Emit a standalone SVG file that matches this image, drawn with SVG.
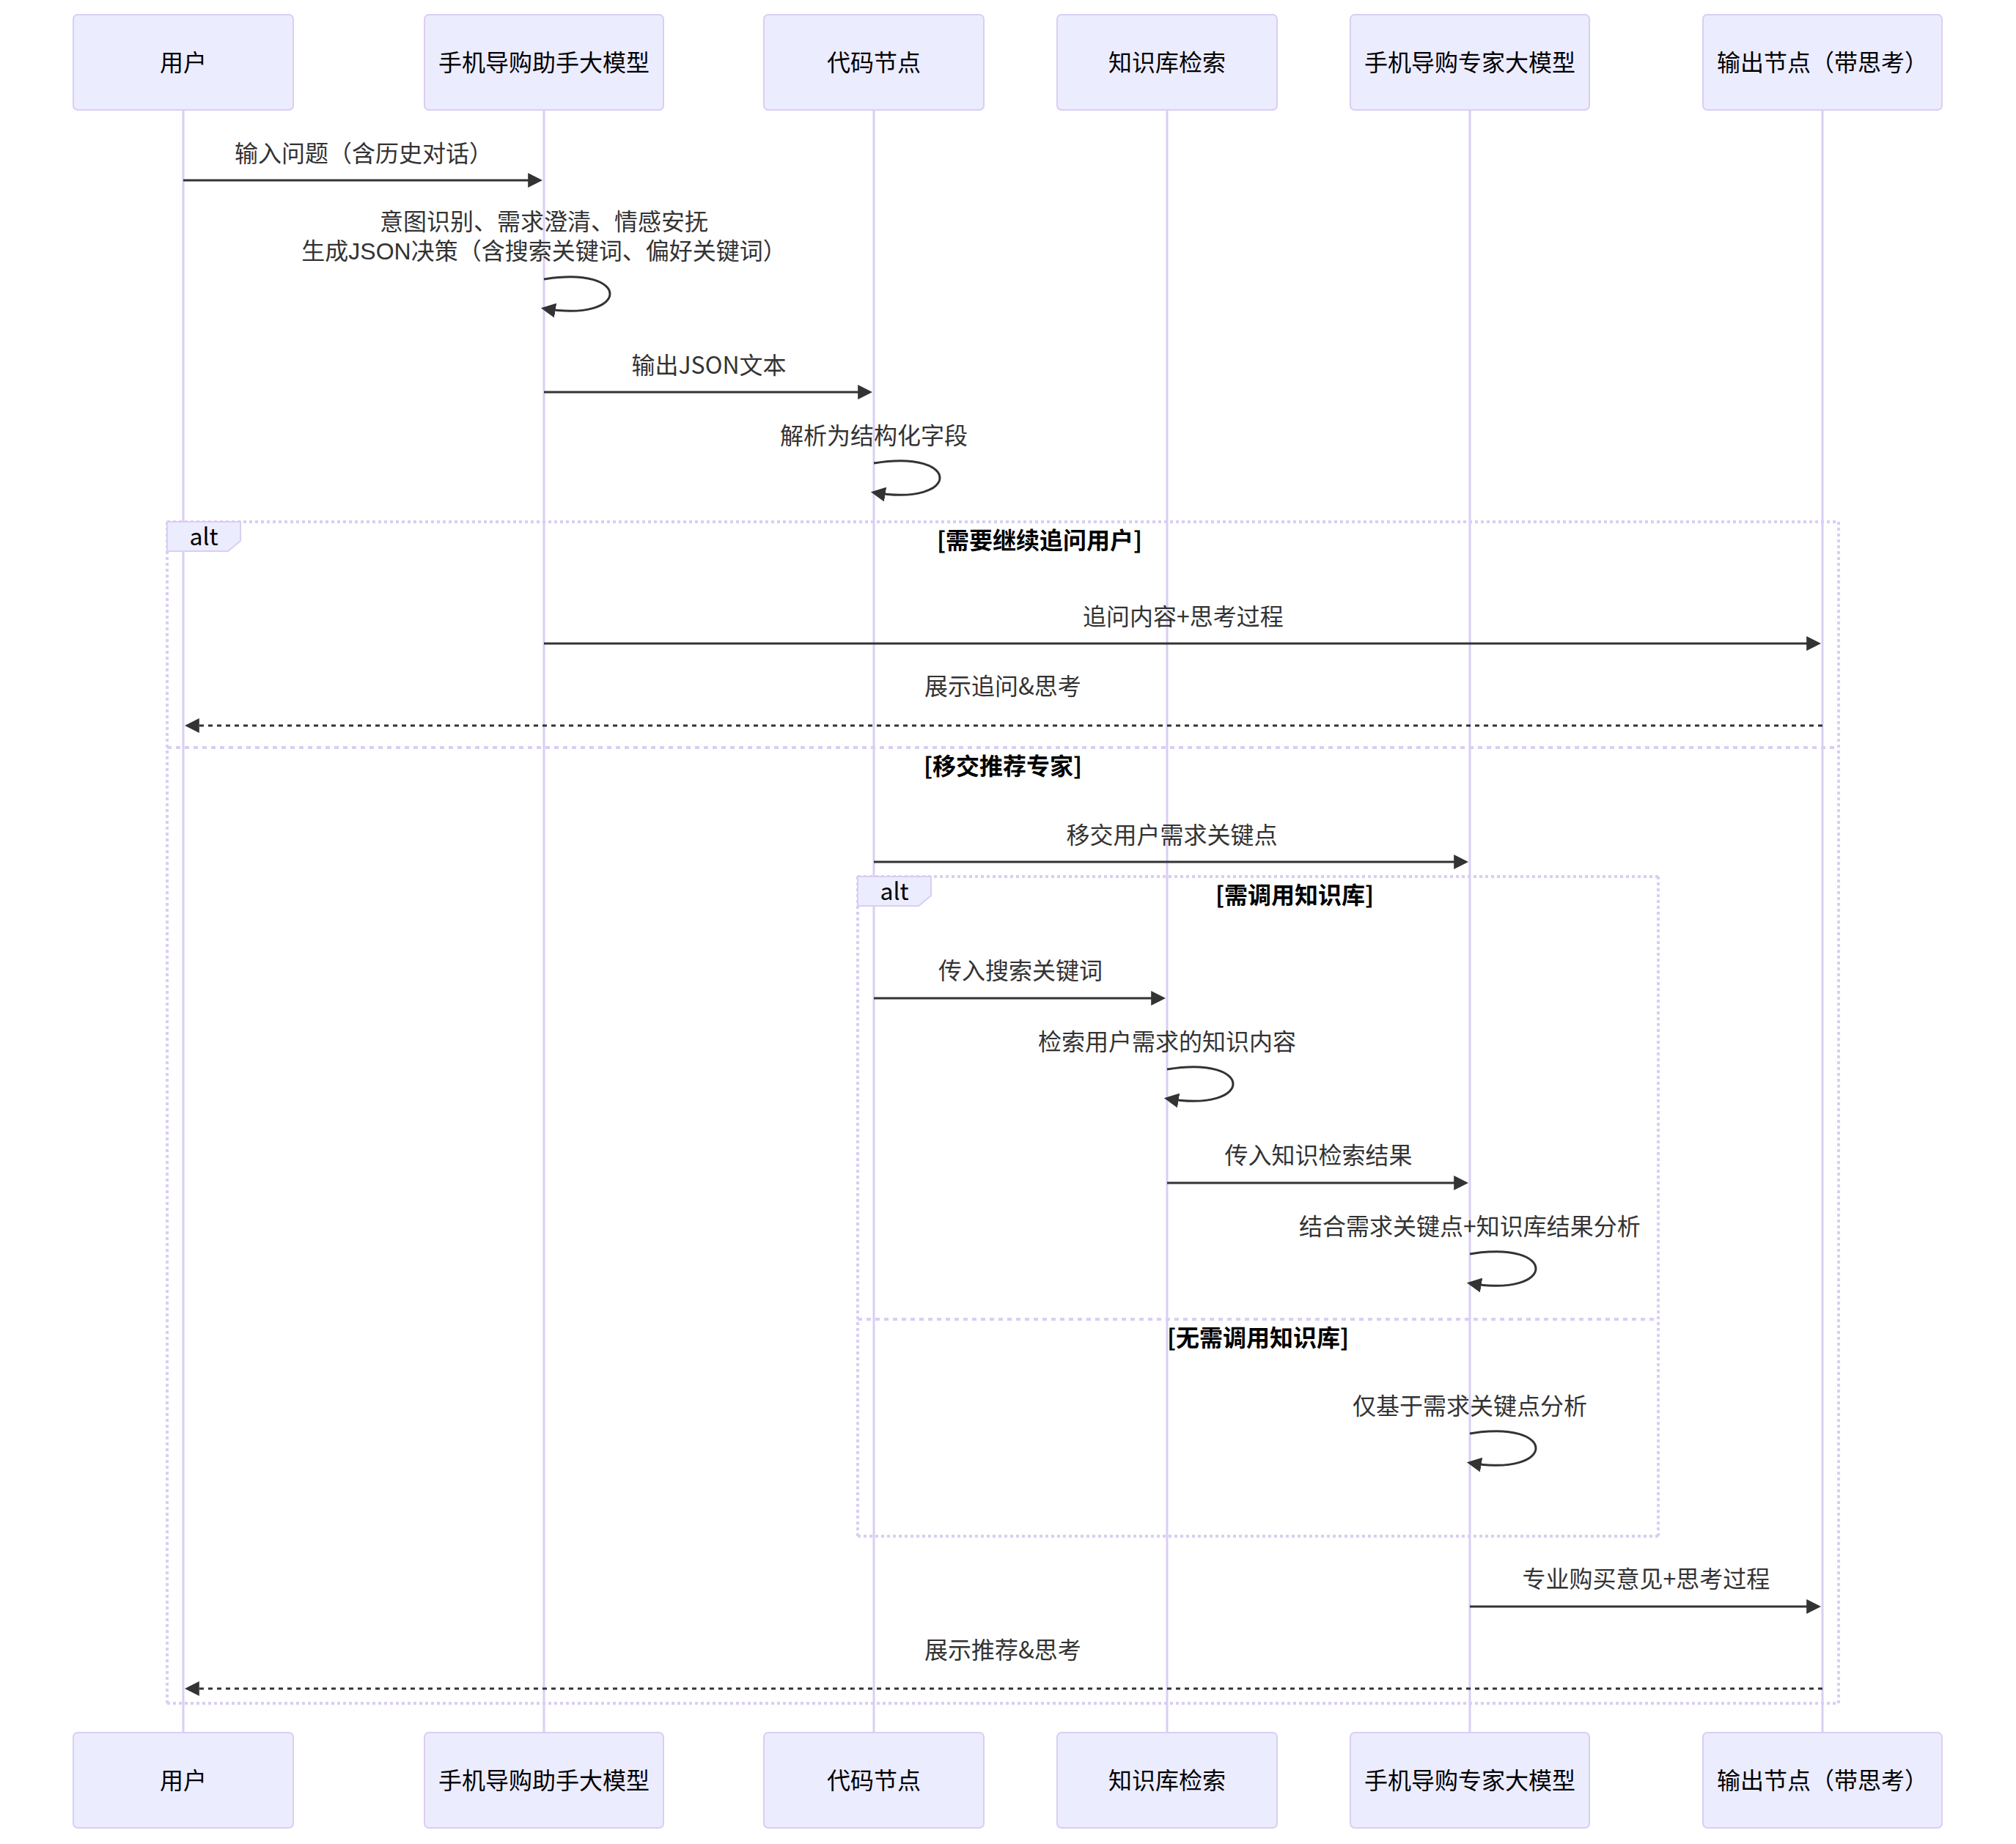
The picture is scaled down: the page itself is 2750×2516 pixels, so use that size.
<svg xmlns="http://www.w3.org/2000/svg" width="2750" height="2516" viewBox="0 0 2750 2516">
<style>
text { font-family: "Noto Sans CJK SC", "Liberation Sans", sans-serif; }
.actor { fill: #ECECFF; stroke: #DACEF3; stroke-width: 2; }
.actor-text { font-size: 32px; fill: #000; text-anchor: middle; }
.lifeline { stroke: #DACEF3; stroke-width: 3; }
.msg { stroke: #333; stroke-width: 3; fill: none; }
.dotted { stroke-dasharray: 6 6; }
.msg-text { font-size: 32px; fill: #333; text-anchor: middle; }
text.multi { font-family: "Liberation Sans", "Noto Sans CJK SC", sans-serif; }
.loop-line { stroke: #DACEF3; stroke-width: 4; stroke-dasharray: 4 4; fill: none; }
.sep-line { stroke: #DACEF3; stroke-width: 4; stroke-dasharray: 6 6; fill: none; }
.label-box { fill: #ECECFF; stroke: #DACEF3; stroke-width: 2; }
.label-text { font-size: 32px; fill: #000; text-anchor: middle; }
.loop-text { font-size: 32px; fill: #000; text-anchor: middle; font-weight: bold; }
</style>
<defs>
<marker id="arrowhead" viewBox="0 0 10 10" markerUnits="userSpaceOnUse" markerWidth="20" markerHeight="20" refX="7.9" refY="5" orient="auto">
<path d="M 0 0 L 10 5 L 0 10 z" fill="#333"/>
</marker>
</defs>
<rect width="2750" height="2516" fill="#fff"/>

<g id="lifelines">
<line class="lifeline" x1="250" y1="150" x2="250" y2="2364"/>
<line class="lifeline" x1="742" y1="150" x2="742" y2="2364"/>
<line class="lifeline" x1="1192" y1="150" x2="1192" y2="2364"/>
<line class="lifeline" x1="1592" y1="150" x2="1592" y2="2364"/>
<line class="lifeline" x1="2005" y1="150" x2="2005" y2="2364"/>
<line class="lifeline" x1="2486" y1="150" x2="2486" y2="2364"/>
</g>

<g id="frames">
<g id="alt-outer">
<line class="loop-line" x1="228" y1="712" x2="2508" y2="712"/>
<line class="loop-line" x1="2508" y1="712" x2="2508" y2="2324"/>
<line class="loop-line" x1="228" y1="2324" x2="2508" y2="2324"/>
<line class="loop-line" x1="228" y1="712" x2="228" y2="2324"/>
<line class="sep-line" x1="228" y1="1020" x2="2508" y2="1020"/>
<polygon class="label-box" points="228,712 328,712 328,738 311.2,752 228,752"/>
<text class="label-text" x="278" y="744">alt</text>
<text class="loop-text" x="1418" y="749">[需要继续追问用户]</text>
<text class="loop-text" x="1368" y="1057">[移交推荐专家]</text>
</g>
<g id="alt-inner">
<line class="loop-line" x1="1170" y1="1196" x2="2262" y2="1196"/>
<line class="loop-line" x1="2262" y1="1196" x2="2262" y2="2096"/>
<line class="loop-line" x1="1170" y1="2096" x2="2262" y2="2096"/>
<line class="loop-line" x1="1170" y1="1196" x2="1170" y2="2096"/>
<line class="sep-line" x1="1170" y1="1800" x2="2262" y2="1800"/>
<polygon class="label-box" points="1170,1196 1270,1196 1270,1222 1253.2,1236 1170,1236"/>
<text class="label-text" x="1220" y="1228">alt</text>
<text class="loop-text" x="1766" y="1233">[需调用知识库]</text>
<text class="loop-text" x="1716" y="1837">[无需调用知识库]</text>
</g>
</g>

<g id="participant-user">
<rect class="actor" x="100" y="20" width="300" height="130" rx="6"/>
<text class="actor-text" x="250" y="97">用户</text>
<rect class="actor" x="100" y="2364" width="300" height="130" rx="6"/>
<text class="actor-text" x="250" y="2441">用户</text>
</g>
<g id="participant-assistant">
<rect class="actor" x="579" y="20" width="326" height="130" rx="6"/>
<text class="actor-text" x="742" y="97">手机导购助手大模型</text>
<rect class="actor" x="579" y="2364" width="326" height="130" rx="6"/>
<text class="actor-text" x="742" y="2441">手机导购助手大模型</text>
</g>
<g id="participant-code">
<rect class="actor" x="1042" y="20" width="300" height="130" rx="6"/>
<text class="actor-text" x="1192" y="97">代码节点</text>
<rect class="actor" x="1042" y="2364" width="300" height="130" rx="6"/>
<text class="actor-text" x="1192" y="2441">代码节点</text>
</g>
<g id="participant-kb">
<rect class="actor" x="1442" y="20" width="300" height="130" rx="6"/>
<text class="actor-text" x="1592" y="97">知识库检索</text>
<rect class="actor" x="1442" y="2364" width="300" height="130" rx="6"/>
<text class="actor-text" x="1592" y="2441">知识库检索</text>
</g>
<g id="participant-expert">
<rect class="actor" x="1842" y="20" width="326" height="130" rx="6"/>
<text class="actor-text" x="2005" y="97">手机导购专家大模型</text>
<rect class="actor" x="1842" y="2364" width="326" height="130" rx="6"/>
<text class="actor-text" x="2005" y="2441">手机导购专家大模型</text>
</g>
<g id="participant-output">
<rect class="actor" x="2323" y="20" width="326" height="130" rx="6"/>
<text class="actor-text" x="2486" y="97">输出节点（带思考）</text>
<rect class="actor" x="2323" y="2364" width="326" height="130" rx="6"/>
<text class="actor-text" x="2486" y="2441">输出节点（带思考）</text>
</g>

<g id="connectors">
<text class="msg-text" x="496" y="221">输入问题（含历史对话）</text>
<line class="msg" x1="250" y1="246" x2="736" y2="246" marker-end="url(#arrowhead)"/>

<text class="msg-text multi" x="742" y="314">意图识别、需求澄清、情感安抚</text>
<text class="msg-text multi" x="742" y="354">生成JSON决策（含搜索关键词、偏好关键词）</text>
<path class="msg" d="M 742,381 C 862,361 862,441 742,421" marker-end="url(#arrowhead)"/>

<text class="msg-text" x="967" y="510">输出JSON文本</text>
<line class="msg" x1="742" y1="535" x2="1186" y2="535" marker-end="url(#arrowhead)"/>

<text class="msg-text" x="1192" y="606">解析为结构化字段</text>
<path class="msg" d="M 1192,632 C 1312,612 1312,692 1192,672" marker-end="url(#arrowhead)"/>

<text class="msg-text" x="1614" y="853">追问内容+思考过程</text>
<line class="msg" x1="742" y1="878" x2="2480" y2="878" marker-end="url(#arrowhead)"/>

<text class="msg-text" x="1368" y="948">展示追问&amp;思考</text>
<line class="msg dotted" x1="2486" y1="990" x2="256" y2="990" marker-end="url(#arrowhead)"/>

<text class="msg-text" x="1598.5" y="1151">移交用户需求关键点</text>
<line class="msg" x1="1192" y1="1176" x2="1999" y2="1176" marker-end="url(#arrowhead)"/>

<text class="msg-text" x="1392" y="1336">传入搜索关键词</text>
<line class="msg" x1="1192" y1="1362" x2="1586" y2="1362" marker-end="url(#arrowhead)"/>

<text class="msg-text" x="1592" y="1433">检索用户需求的知识内容</text>
<path class="msg" d="M 1592,1459 C 1712,1439 1712,1519 1592,1499" marker-end="url(#arrowhead)"/>

<text class="msg-text" x="1798.5" y="1588">传入知识检索结果</text>
<line class="msg" x1="1592" y1="1614" x2="1999" y2="1614" marker-end="url(#arrowhead)"/>

<text class="msg-text" x="2005" y="1685">结合需求关键点+知识库结果分析</text>
<path class="msg" d="M 2005,1711 C 2125,1691 2125,1771 2005,1751" marker-end="url(#arrowhead)"/>

<text class="msg-text" x="2005" y="1930">仅基于需求关键点分析</text>
<path class="msg" d="M 2005,1956 C 2125,1936 2125,2016 2005,1996" marker-end="url(#arrowhead)"/>

<text class="msg-text" x="2245.5" y="2166">专业购买意见+思考过程</text>
<line class="msg" x1="2005" y1="2192" x2="2480" y2="2192" marker-end="url(#arrowhead)"/>

<text class="msg-text" x="1368" y="2263">展示推荐&amp;思考</text>
<line class="msg dotted" x1="2486" y1="2304" x2="256" y2="2304" marker-end="url(#arrowhead)"/>
</g>
</svg>
